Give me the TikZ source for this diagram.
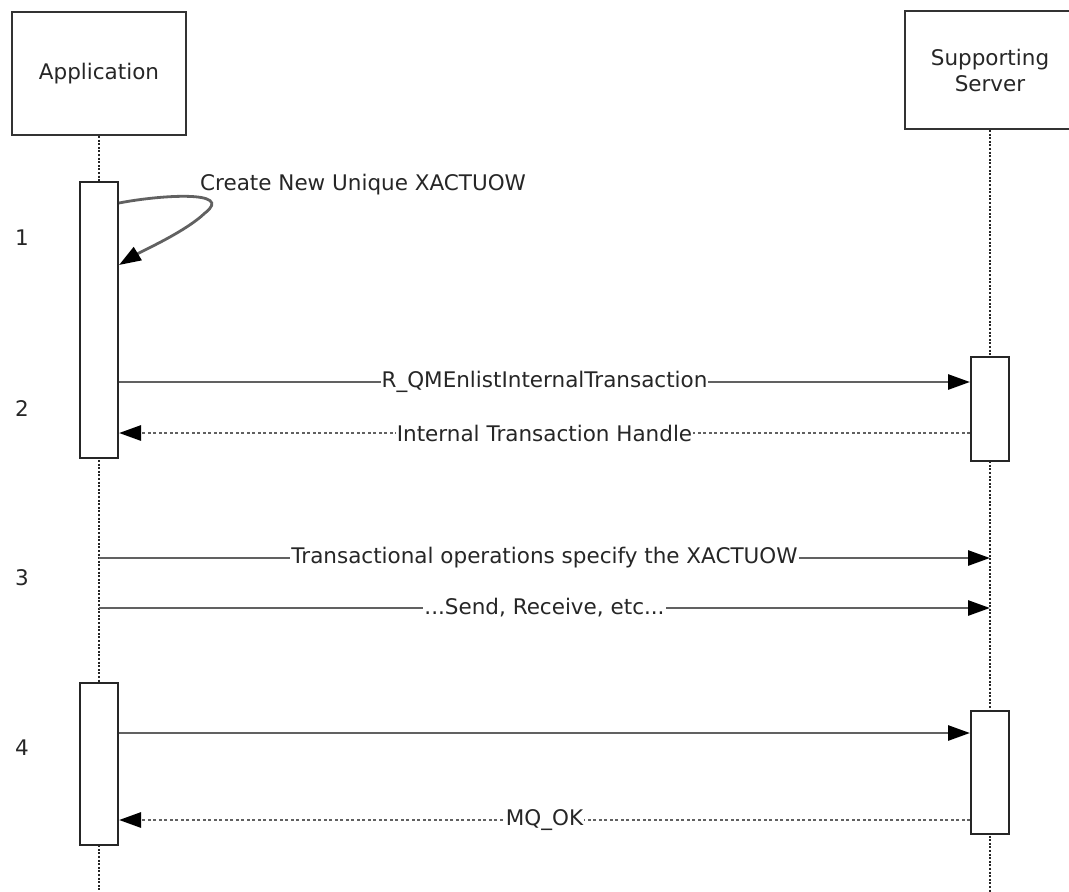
\documentclass[tikz,border=0pt]{standalone}
\usepackage{fontspec}
\setmainfont{DejaVu Sans}
\usetikzlibrary{arrows.meta,positioning}

\begin{document}
\begin{tikzpicture}[x=1pt,y=-1pt,
    every node/.style={inner sep=2pt,text=black!85,font=\fontsize{21.5}{26}\selectfont},
    >={Triangle[length=22pt,width=15pt,color=black]},
    head/.style={draw=black!80,line width=2pt,minimum width=174pt,minimum height=123pt,align=center},
    bar/.style={draw=black!85,fill=white,line width=2pt,minimum width=38pt},
    life/.style={black!85,line width=1.6pt,dash pattern=on 2pt off 1.6pt},
    call/.style={->,black!62,line width=2.8pt},
    reply/.style={->,black!62,line width=2.8pt,dash pattern=on 3pt off 2.5pt},
    lbl/.style={fill=white,inner sep=1pt}]
  \useasboundingbox (0,0) rectangle (1069,892);
  \coordinate (bot) at (0,892);
  % lifelines
  \node[head] (app) at (99,73.5) {Application};
  \node[head,minimum width=170pt,minimum height=118pt] (srv) at (990,70) {Supporting\\Server};
  \draw[life] (app.south) -- (app.south |- bot);
  \draw[life] (srv.south) -- (srv.south |- bot);
  % activations
  \node[bar,minimum height=276pt] (a1) at (99,320) {};
  \node[bar,minimum height=104pt] (s2) at (990,409) {};
  \node[bar,minimum height=162pt] (a4) at (99,764) {};
  \node[bar,minimum height=123pt] (s4) at (990,772.5) {};
  % message heights
  \foreach \m/\y in {m1a/203,m1b/265,m2/382,r2/433,m3a/558,m3b/608,m4/733,r4/820}
    \coordinate (\m) at (0,\y);
  \foreach \n/\y in {1/238,2/409,3/578,4/748}
    \node (step\n) at (22,\y) {\n};
  % 1
  \node[anchor=west] (mk) at (198,185) {Create New Unique XACTUOW};
  \draw[call] (a1.east |- m1a) .. controls (160,195) and (235,190) .. (205,213)
    .. controls (185,232) and (142,251) .. (a1.east |- m1b);
  % 2
  \draw[call] (a1.east |- m2) -- node[lbl]{R\_QMEnlistInternalTransaction} (s2.west |- m2);
  \draw[reply] (s2.west |- r2) -- node[lbl]{Internal Transaction Handle} (a1.east |- r2);
  % 3
  \draw[call] (app.south |- m3a) -- node[lbl]{Transactional operations specify the XACTUOW} (srv.south |- m3a);
  \draw[call] (app.south |- m3b) -- node[lbl]{...Send, Receive, etc...} (srv.south |- m3b);
  % 4
  \draw[call] (a4.east |- m4) -- (s4.west |- m4);
  \draw[reply] (s4.west |- r4) -- node[lbl]{MQ\_OK} (a4.east |- r4);
\end{tikzpicture}
\end{document}
